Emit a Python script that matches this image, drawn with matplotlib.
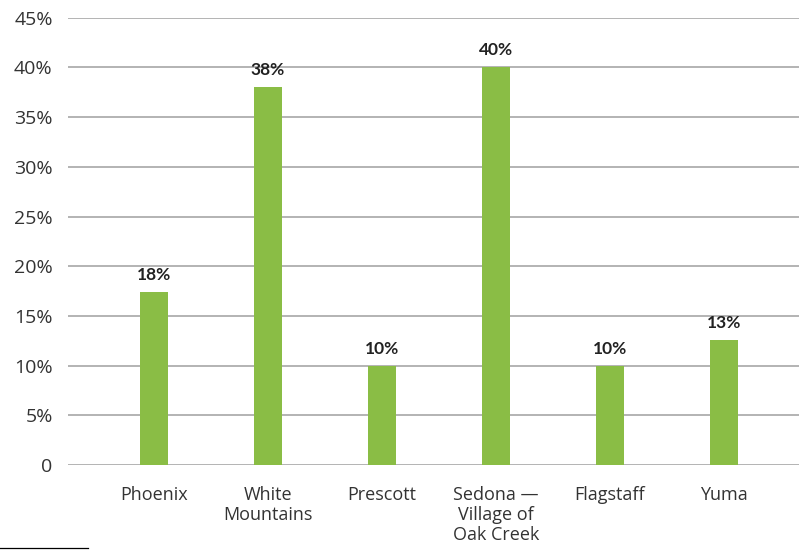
#!/usr/bin/env python3
import matplotlib
matplotlib.use('Agg')
import matplotlib.pyplot as plt
from matplotlib.lines import Line2D

categories = ['Phoenix', 'White\nMountains', 'Prescott',
              'Sedona —\nVillage of\nOak Creek', 'Flagstaff', 'Yuma']
shares = [17.4, 38.0, 10.0, 40.0, 10.0, 12.6]
share_labels = ['18%', '38%', '10%', '40%', '10%', '13%']
y_ticks = [0, 5, 10, 15, 20, 25, 30, 35, 40, 45]
y_tick_labels = ['0'] + ['%d%%' % t for t in y_ticks[1:]]


def main():
    plt.rcParams['font.family'] = ['Open Sans', 'DejaVu Sans']

    fig = plt.figure(figsize=(8.04, 5.5), dpi=100)
    ax = fig.add_axes([68 / 804, 1 - 465 / 550, (799 - 68) / 804, (465 - 17.7) / 550])

    pos = list(range(len(categories)))
    ax.bar(pos, shares, width=0.246, color='#8abd45', zorder=3)

    # the installed Open Sans has no normal-width bold, Lato Bold is close enough
    for x, v, lab in zip(pos, shares, share_labels):
        ax.annotate(lab, (x, v), xytext=(0, 6.5), textcoords='offset points',
                    ha='center', va='bottom', fontsize=12.5,
                    family=['Lato', 'DejaVu Sans'],
                    fontweight='bold', color='#222222')

    ax.set_xlim(-0.754, 5.658)
    ax.set_ylim(0, 45)
    ax.set_yticks(y_ticks)
    ax.set_yticklabels(y_tick_labels)
    ax.set_xticks(pos)
    ax.set_xticklabels(categories, linespacing=1.15)

    ax.yaxis.grid(True, color='#b3b3b3', linewidth=1.4, zorder=0)
    for side in ['top', 'right', 'left', 'bottom']:
        ax.spines[side].set_visible(False)
    ax.tick_params(axis='y', length=0, pad=11, labelsize=14, labelcolor='#333333')
    ax.tick_params(axis='x', length=0, pad=15, labelsize=13, labelcolor='#333333')

    # short rule at the bottom left
    fig.add_artist(Line2D([0, 88 / 804], [2.5 / 550, 2.5 / 550],
                          transform=fig.transFigure, color='black', linewidth=0.9))

    fig.savefig('out.png', dpi=100)


if __name__ == '__main__':
    main()
